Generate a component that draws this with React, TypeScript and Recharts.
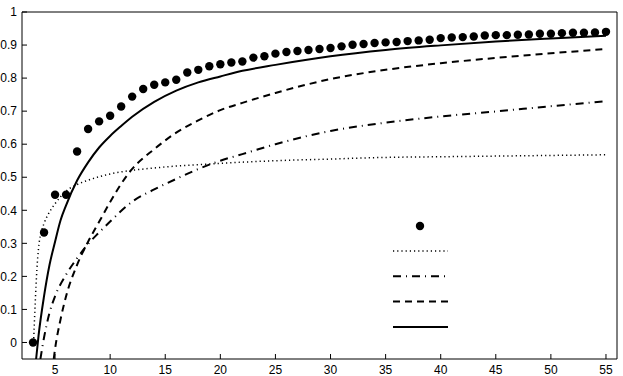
import {
  ComposedChart,
  Line,
  Scatter,
  XAxis,
  YAxis,
  Legend,
} from "recharts";

// measured points (markers)
const dotX = [
  3, 4, 5, 6, 7, 8, 9, 10, 11, 12, 13, 14, 15, 16, 17, 18, 19, 20, 21, 22, 23, 24, 25, 26, 27, 28, 29,
  30, 31, 32, 33, 34, 35, 36, 37, 38, 39, 40, 41, 42, 43, 44, 45, 46, 47, 48, 49, 50, 51, 52, 53, 54, 55,
];
const dotY = [
  0, 0.333, 0.447, 0.447, 0.578, 0.646, 0.669, 0.686, 0.714, 0.744, 0.767, 0.78, 0.787, 0.795, 0.817,
  0.825, 0.836, 0.842, 0.847, 0.85, 0.862, 0.866, 0.874, 0.879, 0.882, 0.885, 0.888, 0.891, 0.896,
  0.901, 0.903, 0.906, 0.908, 0.909, 0.912, 0.914, 0.916, 0.921, 0.923, 0.924, 0.926, 0.929, 0.93,
  0.93, 0.931, 0.932, 0.934, 0.934, 0.936, 0.937, 0.937, 0.938, 0.94,
];

// dotted curve
const dottedX = [3.05, 3.2, 3.35, 3.5, 3.8, 4, 4.5, 5, 6, 7, 8, 10, 12, 14, 16, 18, 20, 25, 30, 35, 40, 45, 50, 55];
const dottedY = [0, 0.12, 0.22, 0.285, 0.34, 0.36, 0.395, 0.42, 0.458, 0.478, 0.491, 0.51, 0.521, 0.528, 0.534, 0.538, 0.542, 0.55, 0.555, 0.56, 0.562, 0.564, 0.566, 0.568];

// dash-dot curve
const dashDotX = [3.67, 4, 4.5, 5, 6, 7, 8, 9, 10, 12, 14, 16, 18, 20, 22, 25, 30, 35, 40, 45, 50, 55];
const dashDotY = [-0.05, 0.015, 0.09, 0.14, 0.205, 0.255, 0.298, 0.333, 0.366, 0.426, 0.463, 0.495, 0.525, 0.55, 0.57, 0.6, 0.64, 0.665, 0.684, 0.699, 0.715, 0.73];

// dashed curve
const dashedX = [4.88, 5, 5.5, 6, 7, 8, 9, 10, 11, 12, 14, 16, 18, 20, 22, 25, 30, 35, 40, 45, 50, 55];
const dashedY = [-0.05, -0.02, 0.07, 0.14, 0.235, 0.305, 0.365, 0.425, 0.48, 0.525, 0.585, 0.635, 0.672, 0.703, 0.725, 0.755, 0.797, 0.825, 0.845, 0.861, 0.875, 0.888];

// solid curve
const solidX = [3.28, 3.5, 4, 4.5, 5, 5.5, 6, 7, 8, 9, 10, 11, 12, 14, 16, 18, 20, 22, 25, 30, 35, 40, 45, 50, 55];
const solidY = [-0.05, 0.02, 0.14, 0.235, 0.305, 0.37, 0.415, 0.49, 0.545, 0.59, 0.625, 0.655, 0.683, 0.728, 0.762, 0.787, 0.805, 0.822, 0.84, 0.866, 0.885, 0.899, 0.911, 0.92, 0.928];

const xTicks = [5, 10, 15, 20, 25, 30, 35, 40, 45, 50, 55];
const yTicks = [0, 0.1, 0.2, 0.3, 0.4, 0.5, 0.6, 0.7, 0.8, 0.9, 1];

const toPoints = (xs: number[], ys: number[]) => xs.map((x, i) => ({ x, y: ys[i] }));

const curves = [
  { key: "dotted", data: toPoints(dottedX, dottedY), width: 1.5, dash: "1.2 3" },
  { key: "dashdot", data: toPoints(dashDotX, dashDotY), width: 2, dash: "8 5 1 5" },
  { key: "dashed", data: toPoints(dashedX, dashedY), width: 2, dash: "7 5" },
  { key: "solid", data: toPoints(solidX, solidY), width: 2, dash: undefined },
];

const font = { fontSize: 12, fill: "#000", fontFamily: "Liberation Sans, Arial, sans-serif" };

const Dot = (props: any) => <circle cx={props.cx} cy={props.cy} r={4.2} fill="#000" />;

const LegendBox = () => (
  <svg width={62} height={116}>
    <circle cx={30} cy={8} r={4.2} fill="#000" />
    {curves.map((c, i) => (
      <line
        key={c.key}
        x1={3}
        x2={58}
        y1={33 + i * 25.3}
        y2={33 + i * 25.3}
        stroke="#000"
        strokeWidth={c.width}
        strokeDasharray={c.dash}
      />
    ))}
  </svg>
);

export default function App() {
  return (
    <div style={{ position: "absolute", left: 0, top: 0 }}>
      <ComposedChart
        width={623}
        height={376}
        margin={{ top: 11, right: 5, bottom: 0, left: 0 }}
        style={{ background: "#fff" }}
      >
        <XAxis
          dataKey="x"
          type="number"
          domain={[2, 56]}
          ticks={xTicks}
          allowDataOverflow
          height={17}
          stroke="#000"
          tick={font}
          tickSize={-5}
          tickMargin={11}
        />
        <XAxis
          xAxisId="top"
          orientation="top"
          type="number"
          domain={[2, 56]}
          ticks={xTicks}
          height={1}
          stroke="#000"
          tickSize={-5}
          tickFormatter={() => ""}
        />
        <YAxis
          type="number"
          domain={[-0.05, 1]}
          ticks={yTicks}
          allowDataOverflow
          width={22}
          stroke="#000"
          tick={font}
          tickSize={-5}
          tickMargin={10}
        />
        <YAxis
          yAxisId="right"
          orientation="right"
          type="number"
          domain={[-0.05, 1]}
          ticks={yTicks}
          width={1}
          stroke="#000"
          tickSize={-5}
          tickFormatter={() => ""}
        />
        {curves.map((c) => (
          <Line
            key={c.key}
            data={c.data}
            dataKey="y"
            type="monotone"
            stroke="#000"
            strokeWidth={c.width}
            strokeDasharray={c.dash}
            dot={false}
            activeDot={false}
            isAnimationActive={false}
          />
        ))}
        <Scatter
          data={toPoints(dotX, dotY)}
          dataKey="y"
          shape={Dot}
          isAnimationActive={false}
        />
        <Legend
          layout="vertical"
          align="center"
          verticalAlign="middle"
          content={LegendBox}
          wrapperStyle={{ left: 390, top: 218, width: 62, height: 116 }}
        />
      </ComposedChart>
    </div>
  );
}
